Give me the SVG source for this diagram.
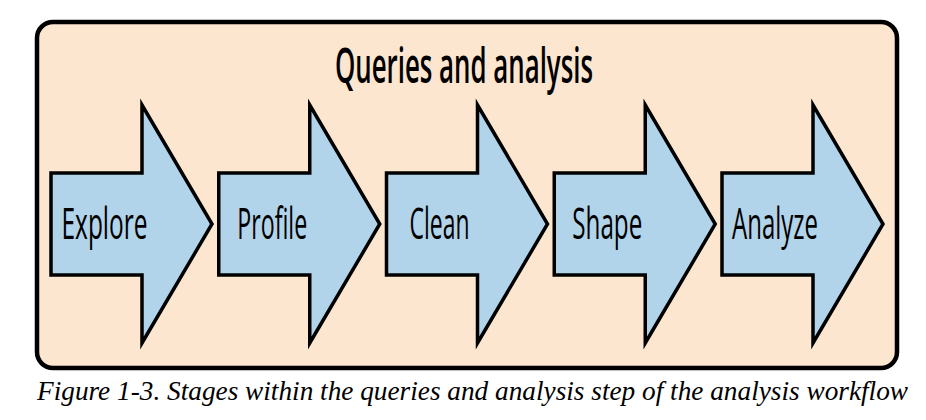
<svg xmlns="http://www.w3.org/2000/svg" width="926" height="420" viewBox="0 0 926 420">
<defs>
<style>
.frame{fill:#fde6cf;stroke:#000;stroke-width:4.5}
.arrow{fill:#b1d4ea;stroke:#000;stroke-width:3.5;stroke-linejoin:miter}
.lbl{font-family:"Open Sans","Liberation Sans",sans-serif;font-size:44px;fill:#000;text-anchor:middle}
.title{font-family:"Open Sans","Liberation Sans",sans-serif;font-size:49px;font-weight:600;fill:#000;text-anchor:middle}
.cap{font-family:"Liberation Serif",serif;font-style:italic;font-size:27px;fill:#000}
</style>
<polygon id="arrowShape" points="0,173 91,173 91,105 161,224 91,343 91,275 0,275"/>
</defs>
<rect width="926" height="420" fill="#fff"/>
<g id="frame">
<rect class="frame" x="37" y="22" width="860" height="346" rx="16" ry="16"/>
<text class="title" x="464" y="83" textLength="258" lengthAdjust="spacingAndGlyphs">Queries and analysis</text>
</g>
<g id="connectors"></g>
<g id="explore" transform="translate(51,0)">
<use href="#arrowShape" class="arrow"/>
<text class="lbl" x="53.5" y="239" textLength="86" lengthAdjust="spacingAndGlyphs">Explore</text>
</g>
<g id="profile" transform="translate(218.75,0)">
<use href="#arrowShape" class="arrow"/>
<text class="lbl" x="53.5" y="239" textLength="70" lengthAdjust="spacingAndGlyphs">Profile</text>
</g>
<g id="clean" transform="translate(386.5,0)">
<use href="#arrowShape" class="arrow"/>
<text class="lbl" x="53" y="239" textLength="60" lengthAdjust="spacingAndGlyphs">Clean</text>
</g>
<g id="shape" transform="translate(554.25,0)">
<use href="#arrowShape" class="arrow"/>
<text class="lbl" x="53" y="239" textLength="70" lengthAdjust="spacingAndGlyphs">Shape</text>
</g>
<g id="analyze" transform="translate(722,0)">
<use href="#arrowShape" class="arrow"/>
<text class="lbl" x="53" y="239" textLength="86" lengthAdjust="spacingAndGlyphs">Analyze</text>
</g>
<text class="cap" x="37" y="400" textLength="871" lengthAdjust="spacingAndGlyphs">Figure 1-3. Stages within the queries and analysis step of the analysis workflow</text>
</svg>
